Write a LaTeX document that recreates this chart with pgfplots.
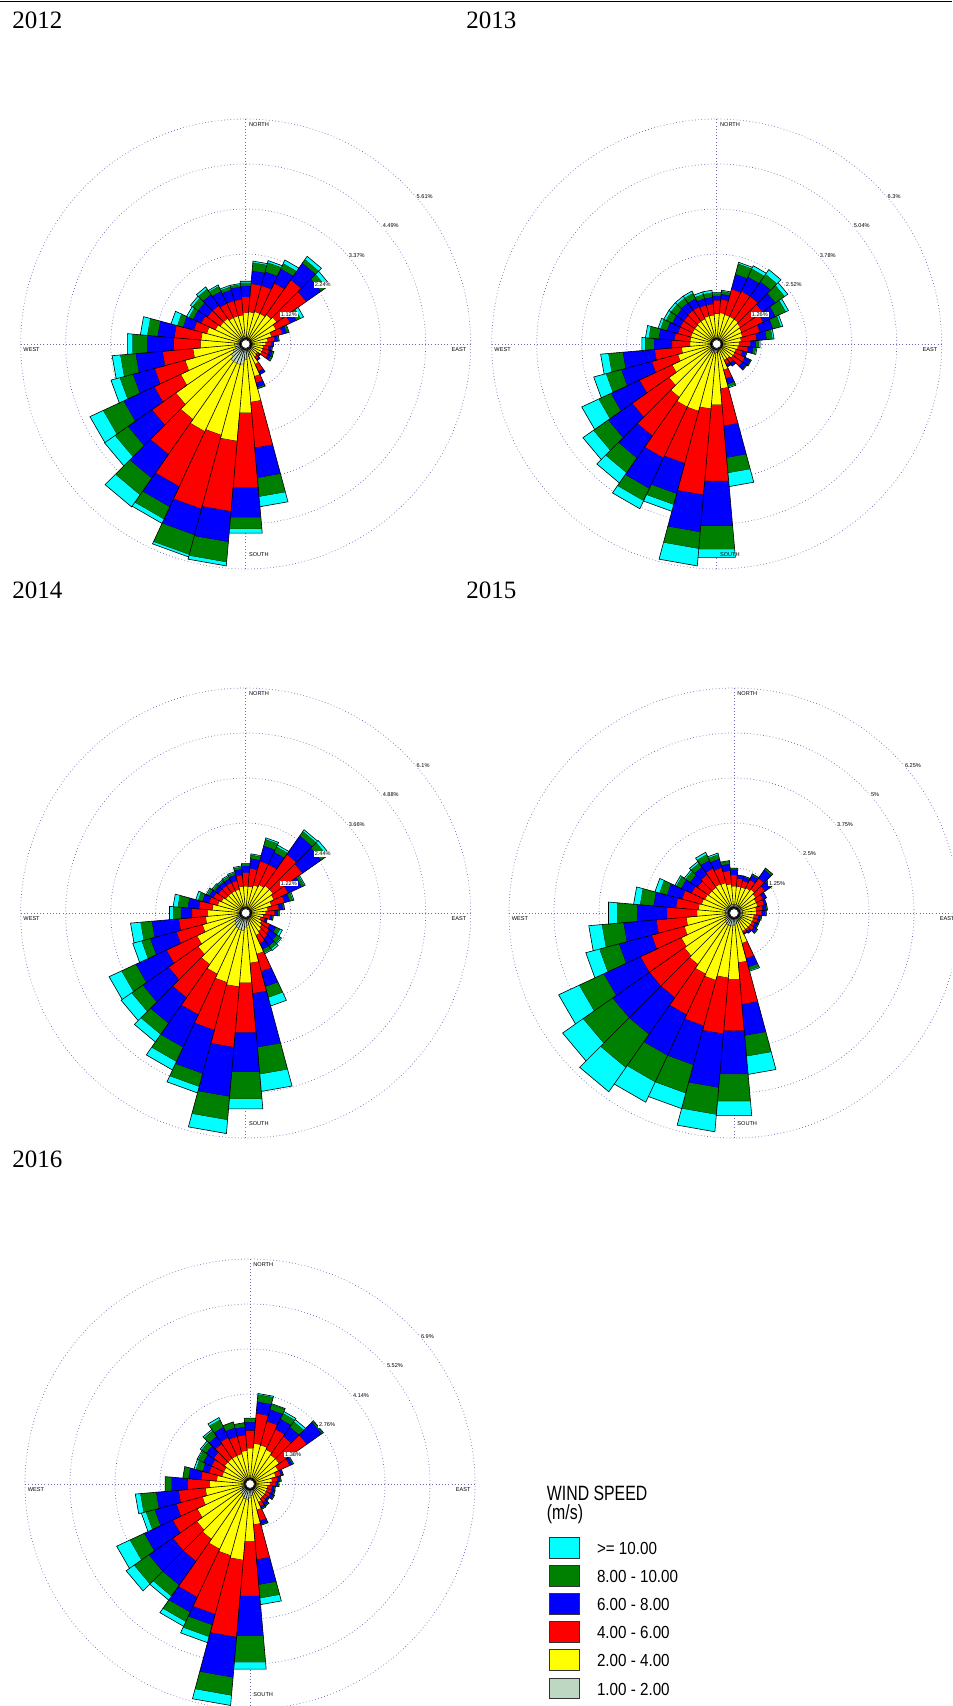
\documentclass[border=0pt]{standalone}
\usepackage{fontspec}
\setmainfont{Liberation Serif}
\newfontfamily\sansf{Liberation Sans}
\usepackage{pgfplots}
\usepackage{pgfplotstable}
\pgfplotsset{compat=1.18}
\usepgfplotslibrary{polar}

\definecolor{wc1}{RGB}{190,215,195}
\definecolor{wc2}{RGB}{255,255,0}
\definecolor{wc3}{RGB}{255,0,0}
\definecolor{wc4}{RGB}{0,0,255}
\definecolor{wc5}{RGB}{0,128,0}
\definecolor{wc6}{RGB}{0,255,255}
\definecolor{gridc}{RGB}{105,105,180}

% cumulative radii of the six speed classes, in rings (1 ring = first ring value)
\pgfplotstableread{
b g y r bl gr c
0 0.16 0.70 1.05 1.30 1.37 1.40
10 0.16 0.72 1.35 1.64 1.82 1.85
20 0.16 0.75 1.35 1.67 1.88 1.92
30 0.16 0.75 1.50 1.85 1.98 2.06
40 0.16 0.80 1.75 2.20 2.30 2.38
50 0.16 0.85 1.65 2.05 2.20 2.29
60 0.16 0.75 1.10 1.25 1.35 1.42
70 0.16 0.60 0.85 0.95 0.99 1.00
80 0.16 0.50 0.65 0.72 0.74 0.75
90 0.16 0.45 0.57 0.62 0.62 0.62
100 0.16 0.40 0.52 0.58 0.60 0.60
110 0.16 0.40 0.55 0.62 0.65 0.65
120 0.16 0.40 0.55 0.62 0.65 0.66
130 0.16 0.32 0.38 0.40 0.40 0.40
140 0.16 0.35 0.42 0.45 0.45 0.45
150 0.16 0.50 0.68 0.75 0.75 0.75
160 0.25 0.75 0.90 1.00 1.03 1.03
170 0.30 1.30 2.32 2.99 3.41 3.63
180 0.35 1.54 3.21 3.87 4.13 4.22
190 0.48 2.17 3.74 4.42 4.87 4.95
200 0.48 2.10 3.80 4.40 4.85 4.90
210 0.48 2.15 3.50 4.00 4.30 4.40
220 0.48 2.05 3.00 3.65 4.10 4.42
230 0.40 1.90 2.55 3.20 3.55 3.83
240 0.32 1.60 2.25 3.00 3.50 3.82
250 0.25 1.40 2.10 2.60 2.90 3.10
260 0.25 1.18 1.86 2.46 2.80 2.98
270 0.25 1.01 1.61 2.20 2.53 2.64
280 0.18 1.00 1.60 1.97 2.20 2.35
290 0.18 0.90 1.20 1.45 1.58 1.72
300 0.18 0.75 1.10 1.30 1.40 1.45
310 0.18 0.70 1.05 1.30 1.45 1.50
320 0.18 0.70 1.05 1.35 1.50 1.55
330 0.18 0.65 1.00 1.30 1.42 1.45
340 0.18 0.65 1.00 1.25 1.32 1.35
350 0.18 0.65 1.00 1.28 1.33 1.35
}\roseA

\pgfplotstableread{
b g y r bl gr c
0 0.15 0.68 0.98 1.08 1.13 1.15
10 0.15 0.70 1.00 1.12 1.18 1.20
20 0.15 0.68 1.27 1.61 1.85 1.88
30 0.15 0.68 1.30 1.65 1.85 1.92
40 0.15 0.68 1.30 1.70 1.90 2.02
50 0.15 0.65 1.25 1.60 1.85 1.93
60 0.15 0.62 1.15 1.45 1.70 1.76
70 0.15 0.60 1.00 1.30 1.48 1.52
80 0.15 0.55 0.90 1.12 1.25 1.28
90 0.15 0.50 0.75 0.88 0.94 0.97
100 0.15 0.48 0.70 0.82 0.88 0.90
110 0.15 0.45 0.60 0.68 0.70 0.70
120 0.15 0.45 0.70 0.83 0.85 0.85
130 0.15 0.45 0.70 0.80 0.82 0.82
140 0.15 0.40 0.52 0.60 0.60 0.60
150 0.15 0.40 0.50 0.55 0.56 0.56
160 0.15 0.60 0.80 0.93 0.99 1.01
170 0.18 1.00 1.83 2.54 2.88 3.18
180 0.20 1.36 3.06 4.06 4.58 4.76
190 0.22 1.45 3.37 4.20 4.57 4.95
200 0.22 1.55 2.75 3.45 3.70 3.85
210 0.22 1.55 2.80 3.55 3.85 4.04
220 0.20 1.45 2.50 3.10 3.50 3.77
230 0.18 1.30 2.30 2.95 3.35 3.63
240 0.15 1.10 1.90 2.60 2.90 3.31
250 0.15 0.90 1.50 2.20 2.55 2.83
260 0.15 0.79 1.39 2.10 2.42 2.59
270 0.15 0.60 1.00 1.40 1.60 1.67
280 0.15 0.60 0.95 1.30 1.52 1.59
290 0.15 0.60 0.90 1.15 1.30 1.35
300 0.15 0.60 0.90 1.10 1.25 1.30
310 0.15 0.60 0.90 1.10 1.25 1.30
320 0.15 0.62 0.92 1.12 1.25 1.30
330 0.15 0.62 0.92 1.12 1.25 1.30
340 0.15 0.65 0.90 1.05 1.15 1.20
350 0.15 0.65 0.90 1.05 1.15 1.20
}\roseB

\pgfplotstableread{
b g y r bl gr c
0 0.15 0.60 0.90 1.05 1.10 1.10
10 0.15 0.60 1.00 1.22 1.30 1.32
20 0.15 0.65 1.20 1.55 1.70 1.73
30 0.15 0.70 1.20 1.50 1.63 1.67
40 0.15 0.75 1.60 2.10 2.22 2.26
50 0.15 0.75 1.55 2.05 2.22 2.28
60 0.15 0.70 1.05 1.38 1.44 1.46
70 0.15 0.60 0.90 1.02 1.09 1.11
80 0.15 0.50 0.75 0.84 0.87 0.87
90 0.15 0.45 0.65 0.72 0.75 0.75
100 0.15 0.40 0.55 0.60 0.62 0.62
110 0.15 0.35 0.45 0.50 0.50 0.50
120 0.15 0.40 0.60 0.75 0.85 0.90
130 0.15 0.45 0.65 0.85 0.95 0.97
140 0.15 0.50 0.70 0.90 0.98 1.02
150 0.18 0.55 0.75 0.90 0.98 1.00
160 0.22 0.95 1.35 1.70 1.95 2.14
170 0.28 1.12 1.80 3.00 3.60 3.98
180 0.32 1.56 2.67 3.55 4.15 4.37
190 0.40 1.65 3.00 4.10 4.62 4.92
200 0.40 1.60 2.70 3.70 4.00 4.14
210 0.38 1.50 2.50 3.30 3.65 3.85
220 0.35 1.40 2.30 3.00 3.30 3.50
230 0.30 1.30 2.10 2.80 3.10 3.38
240 0.25 1.20 1.95 2.70 3.05 3.35
250 0.20 1.00 1.60 2.20 2.40 2.60
260 0.18 0.90 1.50 2.10 2.35 2.57
270 0.15 0.85 1.20 1.45 1.62 1.70
280 0.15 0.75 1.05 1.30 1.52 1.62
290 0.15 0.65 0.85 1.00 1.10 1.15
300 0.15 0.60 0.80 0.90 0.95 0.97
310 0.15 0.55 0.75 0.85 0.90 0.92
320 0.15 0.55 0.75 0.85 0.88 0.90
330 0.15 0.55 0.75 0.85 0.90 0.92
340 0.15 0.55 0.75 0.88 0.93 0.95
350 0.15 0.60 0.85 0.98 1.03 1.05
}\roseC

\pgfplotstableread{
b g y r bl gr c
0 0.20 0.60 0.85 0.97 1.00 1.00
10 0.20 0.60 0.78 0.85 0.85 0.85
20 0.20 0.60 0.75 0.83 0.85 0.85
30 0.20 0.62 0.82 0.93 0.96 0.96
40 0.20 0.65 0.95 1.18 1.22 1.22
50 0.20 0.60 0.85 1.00 1.03 1.03
60 0.20 0.55 0.72 0.80 0.80 0.80
70 0.20 0.55 0.70 0.75 0.75 0.75
80 0.20 0.50 0.65 0.73 0.75 0.75
90 0.20 0.50 0.62 0.70 0.72 0.72
100 0.20 0.45 0.55 0.60 0.62 0.62
110 0.20 0.45 0.55 0.58 0.60 0.60
120 0.20 0.45 0.52 0.58 0.60 0.60
130 0.20 0.45 0.55 0.62 0.64 0.64
140 0.20 0.45 0.50 0.55 0.55 0.55
150 0.20 0.45 0.50 0.52 0.52 0.52
160 0.22 0.70 1.05 1.25 1.32 1.34
170 0.25 1.11 2.04 2.74 3.20 3.60
180 0.28 1.48 2.63 3.60 4.20 4.52
190 0.30 1.45 2.70 3.90 4.50 4.88
200 0.30 1.55 2.60 3.50 4.15 4.50
210 0.30 1.50 2.50 3.50 4.15 4.64
220 0.28 1.40 2.30 3.30 4.20 4.85
230 0.25 1.35 2.30 3.30 4.10 4.65
240 0.22 1.30 2.30 3.20 3.80 4.30
250 0.20 1.15 1.90 2.65 3.10 3.41
260 0.20 1.07 1.74 2.47 2.95 3.24
270 0.20 0.83 1.50 2.16 2.60 2.80
280 0.20 0.80 1.30 1.80 2.10 2.24
290 0.20 0.75 1.20 1.55 1.72 1.82
300 0.20 0.72 1.05 1.30 1.42 1.45
310 0.20 0.70 1.00 1.20 1.32 1.35
320 0.20 0.70 1.05 1.25 1.36 1.40
330 0.20 0.72 1.10 1.30 1.44 1.49
340 0.20 0.70 1.05 1.25 1.35 1.38
350 0.20 0.65 0.95 1.10 1.16 1.17
}\roseD

\pgfplotstableread{
b g y r bl gr c
0 0.15 0.80 1.20 1.38 1.47 1.47
10 0.15 0.91 1.58 1.84 2.00 2.02
20 0.15 0.90 1.45 1.72 1.84 1.85
30 0.15 0.85 1.35 1.60 1.74 1.78
40 0.15 0.80 1.30 1.55 1.70 1.75
50 0.15 0.80 1.55 1.95 1.98 1.99
60 0.15 0.70 0.98 1.04 1.06 1.07
70 0.15 0.60 0.72 0.76 0.77 0.77
80 0.15 0.50 0.62 0.68 0.70 0.70
90 0.15 0.45 0.58 0.63 0.65 0.65
100 0.15 0.40 0.50 0.55 0.57 0.57
110 0.15 0.40 0.50 0.56 0.58 0.58
120 0.15 0.40 0.50 0.58 0.60 0.60
130 0.15 0.40 0.48 0.52 0.53 0.53
140 0.15 0.40 0.50 0.58 0.60 0.60
150 0.18 0.45 0.55 0.60 0.62 0.62
160 0.22 0.60 0.85 0.93 0.95 0.95
170 0.26 0.91 1.69 2.25 2.55 2.69
180 0.30 1.28 2.50 3.39 3.98 4.13
190 0.35 1.70 3.42 4.32 4.72 4.94
200 0.35 1.65 3.00 3.25 3.52 3.65
210 0.32 1.60 2.78 3.15 3.38 3.49
220 0.28 1.50 2.10 2.75 3.05 3.15
230 0.24 1.45 2.10 2.75 3.15 3.36
240 0.20 1.30 1.90 2.60 2.95 3.27
250 0.18 1.10 1.70 2.20 2.40 2.50
260 0.15 1.00 1.60 2.10 2.45 2.56
270 0.15 0.90 1.40 1.75 1.89 1.89
280 0.15 0.75 1.10 1.38 1.50 1.50
290 0.15 0.65 0.95 1.10 1.25 1.29
300 0.15 0.65 0.95 1.15 1.28 1.30
310 0.15 0.70 1.00 1.20 1.32 1.35
320 0.15 0.70 1.10 1.30 1.45 1.48
330 0.15 0.70 1.15 1.40 1.58 1.63
340 0.15 0.70 1.10 1.30 1.43 1.43
350 0.15 0.75 1.10 1.28 1.37 1.37
}\roseE

\newcommand\roseplots[1]{%
  \pgfplotstablegetrowsof{#1}%
  \pgfmathtruncatemacro\lastrow{\pgfplotsretval-1}%
  \pgfplotsforeachungrouped \j in {1,...,6}{%
    \def\coords{}%
    \pgfmathtruncatemacro\jm{\j-1}%
    \pgfplotsforeachungrouped \i in {0,...,\lastrow}{%
      \pgfplotstablegetelem{\i}{[index]0}\of#1\let\bb\pgfplotsretval
      \pgfplotstablegetelem{\i}{[index]\j}\of#1\let\ro\pgfplotsretval
      \ifnum\j=1 \def\ri{0.1}\else
        \pgfplotstablegetelem{\i}{[index]\jm}\of#1\let\ri\pgfplotsretval\fi
      \pgfmathtruncatemacro\ok{(\ro-\ri)*1000}%
      \ifnum\ok>2
        \pgfmathsetmacro\aA{85-\bb}\pgfmathsetmacro\aB{95-\bb}%
        \edef\coords{\coords (\aA,\ri) (\aA,\ro) (\aB,\ro) (\aB,\ri) (nan,nan)}%
      \fi
    }%
    \edef\temp{\noexpand\addplot[fill=wc\j, draw=black, line width=0.3pt, unbounded coords=jump] coordinates {\coords};}%
    \temp
  }%
}

\pgfplotsset{
  rosestyle/.style={
    anchor=center, width=225pt, height=225pt, scale only axis,
    ymin=0, ymax=5, xmin=0, xmax=360,
    ytick={1,2,3,4}, xtick={0,90,180,270},
    xticklabels={}, yticklabels={},
    xticklabel style={text opacity=0, font=\tiny},
    yticklabel style={text opacity=0, font=\tiny},
    major tick length=0pt,
    grid=major,
    major grid style={dash pattern=on 0.35pt off 1.25pt, gridc, line width=0.35pt},
    axis line style={dash pattern=on 0.35pt off 1.25pt, gridc, line width=0.35pt},
    clip=false,
  }
}
\newcommand\tinyf{\fontsize{2.8}{3}\selectfont\sansf}
\newcommand\roselabels[5]{%
  \node[anchor=north west, inner sep=0pt, font=\tinyf] at ([xshift=1.5pt]axis cs:90,4.92) {NORTH};
  \node[anchor=south west, inner sep=0pt, font=\tinyf] at ([xshift=1.5pt]axis cs:270,4.74) {SOUTH};
  \node[anchor=north west, inner sep=0pt, font=\tinyf] at ([xshift=1.2pt,yshift=-1.5pt]axis cs:180,5) {WEST};
  \node[anchor=north east, inner sep=0pt, font=\tinyf] at ([xshift=-2pt,yshift=-1.5pt]axis cs:0,5) {EAST};
  \node[anchor=west, inner sep=0.4pt, fill=white, font=\tinyf] at (axis cs:41,1) {#1};
  \node[anchor=west, inner sep=0.4pt, fill=white, font=\tinyf] at (axis cs:41,2) {#2};
  \node[anchor=west, inner sep=0.4pt, fill=white, font=\tinyf] at (axis cs:41,3) {#3};
  \node[anchor=west, inner sep=0.4pt, fill=white, font=\tinyf] at (axis cs:41,4) {#4};
  \node[anchor=west, inner sep=0.4pt, fill=white, font=\tinyf] at (axis cs:41,5) {#5};
  \draw[fill=white, line width=0.3pt] (axis cs:0,0) circle[radius=2.2pt];
}

\begin{document}
\begin{tikzpicture}
\path[use as bounding box] (0,0) rectangle (476pt,-853pt);
\clip (0,0) rectangle (476pt,-853pt);
\draw[line width=0.6pt] (0,-0.6pt) -- (476pt,-0.6pt);

\node[anchor=base west, inner sep=0pt, font=\fontsize{12.5}{15}\selectfont] at (6pt,-14.5pt) {2012};
\node[anchor=base west, inner sep=0pt, font=\fontsize{12.5}{15}\selectfont] at (233pt,-14.5pt) {2013};
\node[anchor=base west, inner sep=0pt, font=\fontsize{12.5}{15}\selectfont] at (6pt,-299pt) {2014};
\node[anchor=base west, inner sep=0pt, font=\fontsize{12.5}{15}\selectfont] at (233pt,-299pt) {2015};
\node[anchor=base west, inner sep=0pt, font=\fontsize{12.5}{15}\selectfont] at (6pt,-583.5pt) {2016};

\begin{polaraxis}[rosestyle, at={(122.85pt,-172pt)}]
\roseplots{\roseA}
\roselabels{1.12\%}{2.24\%}{3.37\%}{4.49\%}{5.61\%}
\end{polaraxis}

\begin{polaraxis}[rosestyle, at={(358.35pt,-172pt)}]
\roseplots{\roseB}
\roselabels{1.26\%}{2.52\%}{3.78\%}{5.04\%}{6.3\%}
\end{polaraxis}

\begin{polaraxis}[rosestyle, at={(122.85pt,-456.5pt)}]
\roseplots{\roseC}
\roselabels{1.22\%}{2.44\%}{3.66\%}{4.88\%}{6.1\%}
\end{polaraxis}

\begin{polaraxis}[rosestyle, at={(367pt,-456.5pt)}]
\roseplots{\roseD}
\roselabels{1.25\%}{2.5\%}{3.75\%}{5\%}{6.25\%}
\end{polaraxis}

\begin{polaraxis}[rosestyle, at={(125pt,-742pt)}]
\roseplots{\roseE}
\roselabels{1.38\%}{2.76\%}{4.14\%}{5.52\%}{6.9\%}
\end{polaraxis}

% legend
\node[anchor=base west, inner sep=0pt, font=\fontsize{9}{10}\selectfont\sansf, xscale=0.88, yscale=1.15] at (273.3pt,-750pt) {WIND SPEED};
\node[anchor=base west, inner sep=0pt, font=\fontsize{9}{10}\selectfont\sansf, xscale=0.88, yscale=1.15] at (273.3pt,-759.5pt) {(m/s)};
\foreach \yc/\col/\lab in {-773.8/wc6/{>= 10.00}, -788/wc5/{8.00 - 10.00}, -801.8/wc4/{6.00 - 8.00}, -815.8/wc3/{4.00 - 6.00}, -830/wc2/{2.00 - 4.00}, -844.2/wc1/{1.00 - 2.00}}{
  \draw[fill=\col, draw=black!80, line width=0.5pt] (274.5pt,\yc pt-5.2pt) rectangle (289.5pt,\yc pt+5.2pt);
  \node[anchor=base west, inner sep=0pt, font=\fontsize{7.6}{9}\selectfont\sansf, yscale=1.15] at (298.3pt,\yc pt-3.3pt) {\lab};
}
\end{tikzpicture}
\end{document}
